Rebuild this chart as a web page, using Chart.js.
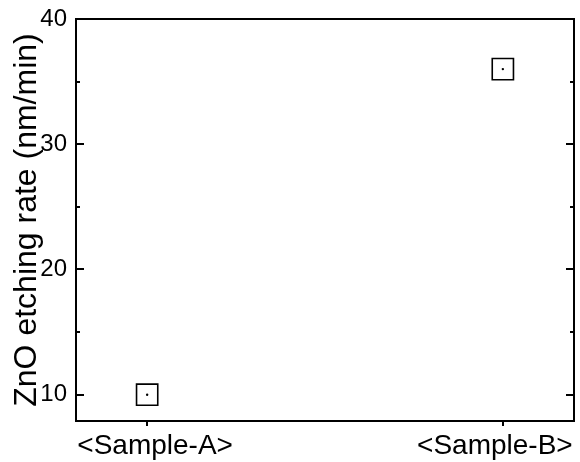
<!DOCTYPE html>
<html>
<head>
<meta charset="utf-8">
<script src="https://cdn.jsdelivr.net/npm/chart.js@4.4.0/dist/chart.umd.min.js"></script>
<style>
  html, body { margin: 0; padding: 0; background: #fff; }
  #wrap { width: 580px; height: 462px; }
</style>
</head>
<body>
<div id="wrap"><canvas id="rateChart" width="580" height="462"></canvas></div>
<script>
const samples = ['<Sample-A>', '<Sample-B>'];
const etchRates = [10, 36];
const yTicks = [10, 15, 20, 25, 30, 35, 40];
const yLabeled = [10, 20, 30, 40];

const FONT = '"Liberation Sans", Arial, Helvetica, sans-serif';

const points = etchRates.map((v, i) => ({ x: i, y: v }));

const ctx = document.getElementById('rateChart').getContext('2d');

const chart = new Chart(ctx, {
  type: 'scatter',
  data: {
    datasets: [{
      label: 'rate',
      data: points,
      pointStyle: 'rect',
      pointRadius: 15,
      pointHoverRadius: 15,
      pointBorderColor: '#000',
      pointBackgroundColor: 'rgba(0,0,0,0)',
      pointBorderWidth: 1.6
    }, {
      label: 'dot',
      data: points,
      pointStyle: 'circle',
      pointRadius: 1.2,
      pointHoverRadius: 1.2,
      pointBorderWidth: 0,
      pointBackgroundColor: '#000'
    }]
  },
  options: {
    responsive: false,
    animation: false,
    layout: { autoPadding: false, padding: { top: 19, right: 6, left: 0, bottom: 0 } },
    plugins: {
      legend: { display: false },
      tooltip: { enabled: false }
    },
    scales: {
      x: {
        type: 'linear',
        min: -0.2,
        max: 1.2,
        grid: { display: false, drawTicks: false },
        border: { display: false },
        ticks: { display: false },
        afterBuildTicks: (scale) => { scale.ticks = samples.map((s, i) => ({ value: i })); },
        afterFit: (scale) => { scale.height = 41; scale.paddingLeft = 0; scale.paddingRight = 0; }
      },
      y: {
        min: 7.9,
        max: 40,
        grid: { display: false, drawTicks: false },
        border: { display: false },
        afterBuildTicks: (scale) => { scale.ticks = yTicks.map(v => ({ value: v })); },
        ticks: {
          padding: 9,
          color: '#000',
          font: { family: FONT, size: 24 },
          callback: (value) => yLabeled.includes(value) ? String(value) : ''
        },
        title: {
          display: true,
          text: 'ZnO etching rate (nm/min)',
          color: '#000',
          font: { family: FONT, size: 32 },
          padding: { top: 8, bottom: 0 }
        },
        afterFit: (scale) => { scale.width = 76; scale.paddingTop = 0; scale.paddingBottom = 0; }
      }
    }
  },
  plugins: [{
    id: 'originFrame',
    afterDraw(chart) {
      const { ctx, chartArea: a, scales } = chart;
      const xs = scales.x, ys = scales.y;
      ctx.save();
      ctx.strokeStyle = '#000';
      ctx.lineWidth = 2;
      ctx.strokeRect(a.left, a.top, a.right - a.left, a.bottom - a.top);

      // inward ticks on left and right
      yTicks.forEach(v => {
        const y = Math.round(ys.getPixelForValue(v));
        const len = yLabeled.includes(v) ? 8 : 4;
        ctx.beginPath();
        ctx.moveTo(a.left, y);
        ctx.lineTo(a.left + len, y);
        ctx.moveTo(a.right, y);
        ctx.lineTo(a.right - len, y);
        ctx.stroke();
      });

      // category ticks, pointing down
      samples.forEach((s, i) => {
        const x = Math.round(xs.getPixelForValue(i));
        ctx.beginPath();
        ctx.moveTo(x, a.bottom);
        ctx.lineTo(x, a.bottom + 5);
        ctx.stroke();
      });

      // category labels
      ctx.fillStyle = '#000';
      ctx.font = '28px ' + FONT;
      ctx.textAlign = 'center';
      ctx.textBaseline = 'alphabetic';
      const shift = [8, -8];
      samples.forEach((s, i) => {
        const x = xs.getPixelForValue(i) + shift[i];
        ctx.fillText(s, x, a.bottom + 33);
      });
      ctx.restore();
    }
  }]
});
</script>
</body>
</html>
